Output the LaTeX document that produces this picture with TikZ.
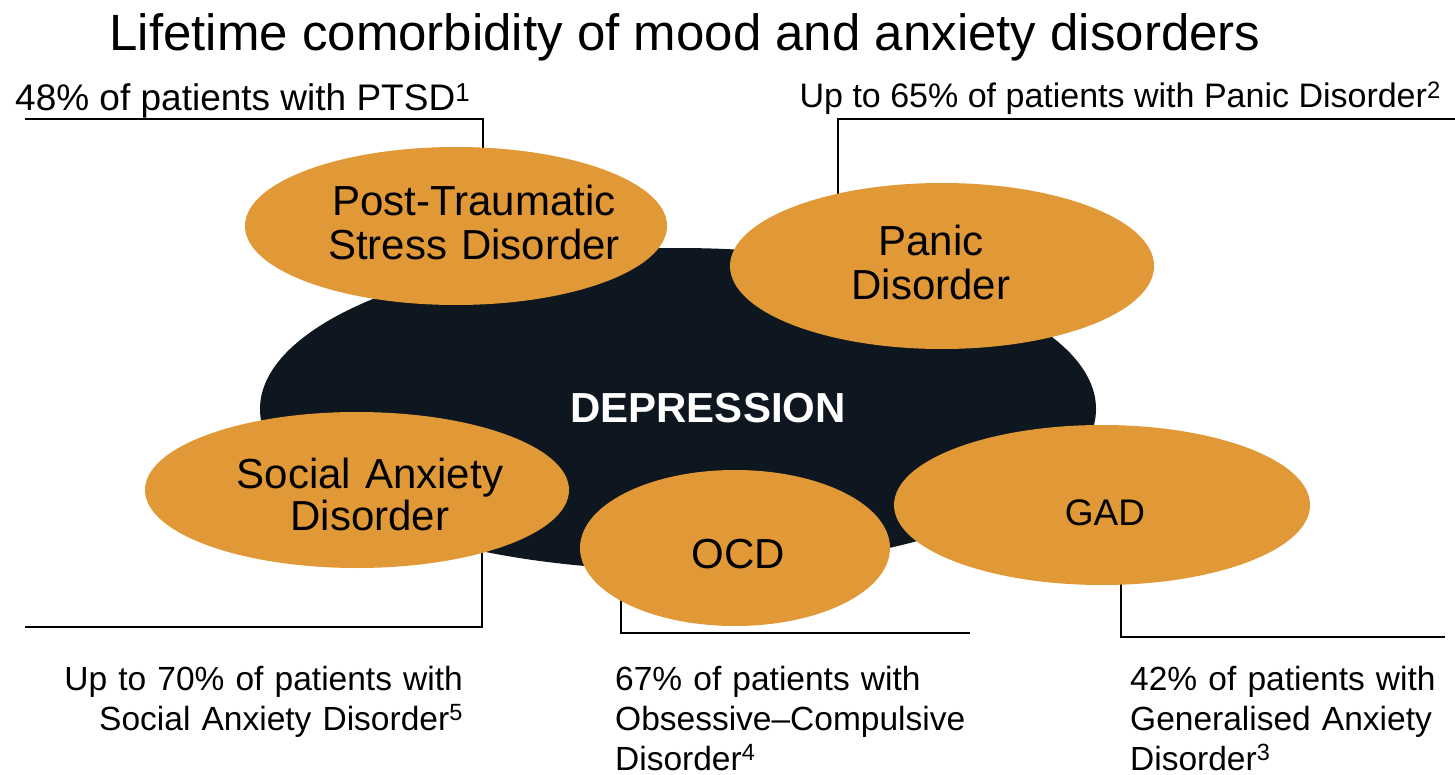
\documentclass[tikz,border=0pt]{standalone}
\usepackage{fontspec}
\setmainfont{Liberation Sans}
\usetikzlibrary{shapes.geometric}
\definecolor{orng}{HTML}{E19836}
\definecolor{darkblob}{HTML}{0E1620}
\pgfdeclarelayer{back}
\pgfdeclarelayer{bg}
\pgfsetlayers{back,bg,main}
\begin{document}
\begin{tikzpicture}[x=1pt,y=-1pt,
  blob/.style={ellipse, fill=orng, inner sep=0pt, draw=none},
  lead/.style={line width=1.8pt, black},
  txt/.style={inner sep=0pt, text=black},
  big/.style={font=\fontsize{42}{44}\selectfont},
  small/.style={font=\fontsize{33.5}{40}\selectfont}]
\begin{pgfonlayer}{back}
\fill[white] (0,0) rectangle (1455,775);
\end{pgfonlayer}
\useasboundingbox (0,0) rectangle (1455,775);
% title
\node[txt, anchor=base, font=\fontsize{51}{60}\selectfont] (title) at (685,51) {Lifetime comorbidity of mood and anxiety disorders};
% ellipses
\node[ellipse, fill=darkblob, inner sep=0pt, minimum width=836pt, minimum height=322pt] (dep) at (678,409) {};
\node[blob, minimum width=422pt, minimum height=158pt] (ptsd) at (456,226) {};
\node[blob, minimum width=424pt, minimum height=166pt] (pan) at (942,266) {};
\node[blob, minimum width=424pt, minimum height=156pt] (sad) at (357,490) {};
\node[blob, minimum width=416pt, minimum height=160pt] (gad) at (1102,505) {};
\node[blob, minimum width=310pt, minimum height=156pt] (ocd) at (735,548) {};
% ellipse texts
\node[txt, anchor=base, text=white, font=\fontsize{42}{48}\selectfont\bfseries] (depT) at (708,422) {DEPRESSION};
\node[txt, big, anchor=base, align=center, text width=400pt] (ptsdT) at (474,216) {Post-Traumatic\\Stress Disorder};
\node[txt, big, anchor=base, align=center, text width=400pt] (panT) at (931,256) {Panic\\Disorder};
\node[txt, anchor=base, align=center, text width=400pt, font=\fontsize{42}{42}\selectfont] (sadT) at (370,488) {Social Anxiety\\Disorder};
\node[txt, big, anchor=base] (ocdT) at (738,568) {OCD};
\node[txt, anchor=base, font=\fontsize{37}{40}\selectfont] (gadT) at (1105,525) {GAD};
% labels
\node[txt, anchor=base west, font=\fontsize{37}{44}\selectfont] (ptsdL) at (15,111) {48\% of patients with PTSD\textsuperscript{1}};
\node[txt, anchor=base east, font=\fontsize{34}{40}\selectfont] (panL) at (1441,108) {Up to 65\% of patients with Panic Disorder\textsuperscript{2}};
\node[txt, small, anchor=base east, align=right, text width=450pt] (sadL) at (463,690) {Up to 70\% of patients with\\Social Anxiety Disorder\textsuperscript{5}};
\node[txt, small, anchor=base west, align=left, text width=400pt] (ocdL) at (615,690) {67\% of patients with\\Obsessive\textendash Compulsive\\Disorder\textsuperscript{4}};
\node[txt, small, anchor=base west, align=left, text width=320pt] (gadL) at (1130,690) {42\% of patients with\\Generalised Anxiety\\Disorder\textsuperscript{3}};
% leader lines
\begin{pgfonlayer}{bg}
\coordinate (a1) at (25,119); \coordinate (a2) at (483,119);
\draw[lead] (a1) -- (a2) -- (a2 |- ptsd.center);
\coordinate (b1) at (1455,119); \coordinate (b2) at (838,119);
\draw[lead] (b1) -- (b2) -- (b2 |- pan.center);
\coordinate (c1) at (25,627); \coordinate (c2) at (482,627);
\draw[lead] (c1) -- (c2) -- (c2 |- sad.center);
\coordinate (d1) at (970,633); \coordinate (d2) at (621,633);
\draw[lead] (d1) -- (d2) -- (d2 |- ocd.center);
\coordinate (e1) at (1445,637); \coordinate (e2) at (1121,637);
\draw[lead] (e1) -- (e2) -- (e2 |- gad.center);
\end{pgfonlayer}
\end{tikzpicture}
\end{document}
